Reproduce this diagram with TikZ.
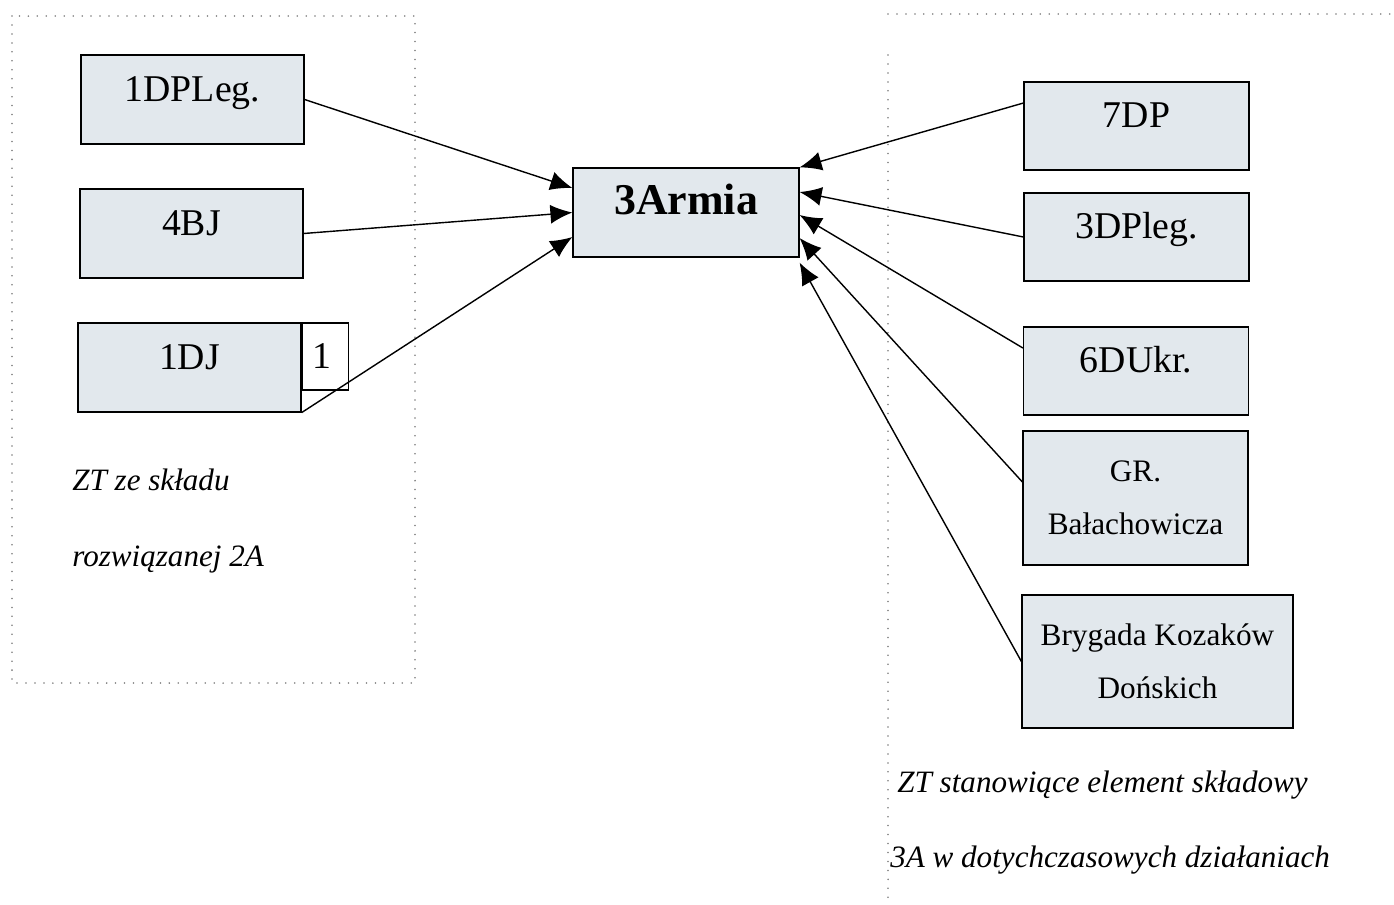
\documentclass[tikz,border=0pt]{standalone}
\usepackage{fontspec}
\setmainfont{Liberation Serif}
\usetikzlibrary{arrows.meta}
\definecolor{unitfill}{RGB}{226,232,237}
\definecolor{framegray}{RGB}{125,125,125}
\begin{document}
\begin{tikzpicture}[x=0.02cm,y=-0.02cm,
  unit/.style={draw,line width=0.7pt,fill=unitfill,minimum width=4.46cm,minimum height=1.78cm,inner sep=2pt,text height=0.52cm,text depth=0.46cm,font=\fontsize{21.5}{24}\selectfont},
  unittwo/.style={draw,line width=0.7pt,fill=unitfill,minimum width=4.5cm,minimum height=2.68cm,inner sep=2pt,align=center,font=\fontsize{17.8}{30}\selectfont},
  note/.style={anchor=base west,inner sep=0pt,font=\fontsize{17.7}{20}\selectfont\itshape},
  frameline/.style={framegray,line width=1pt,line cap=round,dash pattern=on 0pt off 5.1pt},
  link/.style={->,line width=0.8pt},
  >={Latex[length=0.44cm,width=0.38cm]}]
\useasboundingbox (0,0) rectangle (1394,904);

% 3 Armia
\node[unit,minimum width=4.52cm,text height=0.6cm,text depth=0.51cm,font=\fontsize{25}{28}\selectfont\bfseries] (armia) at (686,212.5) {3Armia};

% ZT ze skladu 2A
\begin{scope}
\draw[frameline] (12,16) rectangle (415,683);
\node[unit] (dpleg1) at (192.5,99.5) {1DPLeg.};
\node[unit] (bj4) at (191.5,233.5) {4BJ};
\node[unit] (dj1) at (189.5,367.5) {1DJ};
\node[draw,fill=white,line width=0.7pt,anchor=north west,minimum width=0.92cm,minimum height=1.34cm,inner sep=2pt,text width=0.5cm,align=left,font=\fontsize{21.5}{24}\selectfont] (fn1) at (dj1.north east) {1};
\node[note] (zt2a) at (72,490) {ZT ze składu};
\node[note] (roz2a) at (72,566) {rozwiązanej 2A};
\draw[link] (dpleg1.east) -- ([yshift=0.49cm]armia.west);
\draw[link] (bj4.east) -- (armia.west);
\draw[link] (dj1.south east) -- ([yshift=-0.49cm]armia.west);
\end{scope}

% ZT 3A
\begin{scope}
\draw[frameline] (888,14) -- (1394,14);
\draw[frameline] (888,55) -- (888,904);
\node[unit,minimum width=4.5cm,minimum height=1.76cm] (dp7) at (1136.5,126) {7DP};
\node[unit,minimum width=4.5cm,minimum height=1.76cm] (dpleg3) at (1136.5,237) {3DPleg.};
\node[unit,minimum width=4.5cm,minimum height=1.76cm] (dukr6) at (1136,371) {6DUkr.};
\node[unittwo] (gr) at (1135.5,498) {GR.\\Bałachowicza};
\node[unittwo,minimum width=5.42cm,minimum height=2.66cm] (bkd) at (1157.5,661.5) {Brygada Kozaków\\Dońskich};
\node[note] (zt3a) at (897,792) {ZT stanowiące element składowy};
\node[note] (dz3a) at (890,867) {3A w dotychczasowych działaniach};
\draw[link] ([yshift=0.46cm]dp7.west) -- (armia.north east);
\draw[link] (dpleg3.west) -- ([yshift=0.41cm]armia.east);
\draw[link] ([yshift=0.46cm]dukr6.west) -- ([yshift=-0.05cm]armia.east);
\draw[link] ([yshift=0.32cm]gr.west) -- ([yshift=-0.51cm]armia.east);
\draw[link] (bkd.west) -- ([yshift=-0.1cm]armia.south east);
\end{scope}
\end{tikzpicture}
\end{document}
